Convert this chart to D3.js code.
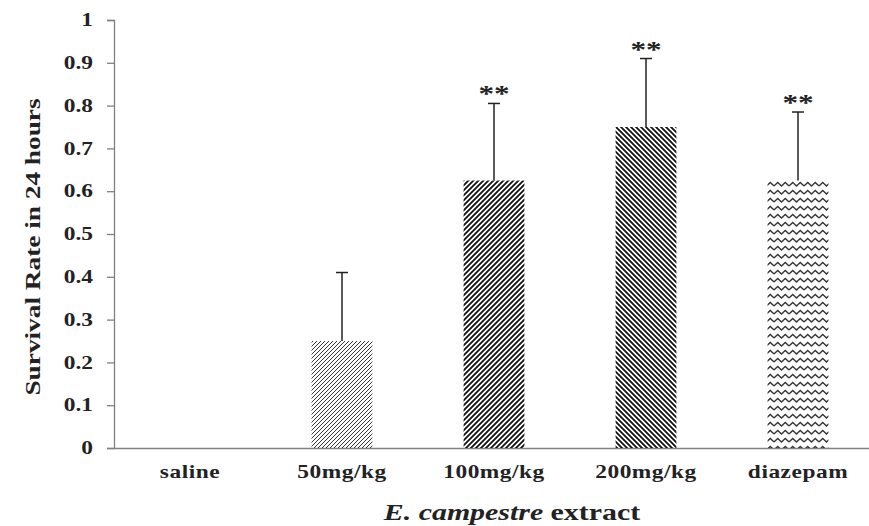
<!DOCTYPE html>
<html>
<head>
<meta charset="utf-8">
<script src="https://cdn.jsdelivr.net/npm/d3@7"></script>
<style>
  body { margin: 0; background: #fff; }
  text { font-family: "Liberation Serif", "DejaVu Serif", serif; fill: #222; }
</style>
</head>
<body>
<svg id="chart" width="869" height="526"></svg>
<script>
// Chart values
var groups = ["saline", "50mg/kg", "100mg/kg", "200mg/kg", "diazepam"];
var survival = [0, 0.25, 0.625, 0.75, 0.625];
var errors = [0, 0.16, 0.18, 0.16, 0.16];
var marks = ["", "", "**", "**", "**"];
var yTicks = [0, 0.1, 0.2, 0.3, 0.4, 0.5, 0.6, 0.7, 0.8, 0.9, 1];
var fills = ["none", "hatchLight", "hatchDark", "hatchBack", "zigzag"];

var svg = d3.select("#chart");
var margin = {top: 20, left: 114, right: -5, bottom: 78};
var width = 869 - margin.left - margin.right;
var height = 526 - margin.top - margin.bottom;

// the source text is wide, so stretch glyphs a little
var stretch = 1.3;

// Fill patterns for the bars
var defs = svg.append("defs");

defs.append("pattern")
    .attr("id", "hatchLight")
    .attr("patternUnits", "userSpaceOnUse")
    .attr("width", 4).attr("height", 4)
    .append("path")
    .attr("d", "M-1,1 l2,-2 M0,4 l4,-4 M3,5 l2,-2")
    .attr("stroke", "#333")
    .attr("stroke-width", 1);

defs.append("pattern")
    .attr("id", "hatchDark")
    .attr("patternUnits", "userSpaceOnUse")
    .attr("width", 5).attr("height", 5)
    .append("path")
    .attr("d", "M-1,1 l2,-2 M0,5 l5,-5 M4,6 l2,-2")
    .attr("stroke", "#111")
    .attr("stroke-width", 1.8);

defs.append("pattern")
    .attr("id", "hatchBack")
    .attr("patternUnits", "userSpaceOnUse")
    .attr("width", 5).attr("height", 5)
    .append("path")
    .attr("d", "M-1,4 l2,2 M0,0 l5,5 M4,-1 l2,2")
    .attr("stroke", "#111")
    .attr("stroke-width", 1.8);

defs.append("pattern")
    .attr("id", "zigzag")
    .attr("patternUnits", "userSpaceOnUse")
    .attr("width", 15).attr("height", 8)
    .append("path")
    .attr("d", "M0,6 L3.75,2.5 L7.5,6 L11.25,2.5 L15,6")
    .attr("fill", "none")
    .attr("stroke", "#333")
    .attr("stroke-width", 1.3);

var g = svg.append("g")
    .attr("transform", `translate(${margin.left}, ${margin.top})`);

// Scales
var x = d3.scaleBand()
    .domain(groups)
    .range([0, width])
    .paddingInner(0.6)
    .paddingOuter(0.3);

var y = d3.scaleLinear()
    .domain([0, 1])
    .range([height, 0]);

// Y axis
var yAxis = g.append("g")
    .call(d3.axisLeft(y)
        .tickValues(yTicks)
        .tickFormat(d3.format("~g"))
        .tickSize(7));

yAxis.select(".domain").attr("stroke", "#808080").attr("stroke-width", 1.3);
yAxis.selectAll(".tick line").attr("stroke", "#808080").attr("stroke-width", 1.3);
yAxis.selectAll(".tick text")
    .attr("x", -21 / stretch)
    .attr("transform", `scale(${stretch},1)`)
    .attr("font-size", 18)
    .attr("font-weight", "bold")
    .attr("fill", "#222")
    .style("font-family", "Liberation Serif, serif");

// X axis
var xAxis = g.append("g")
    .attr("transform", `translate(0, ${height})`)
    .call(d3.axisBottom(x).tickSize(0).tickPadding(17));

xAxis.select(".domain").attr("stroke", "#808080").attr("stroke-width", 1.3);
xAxis.selectAll(".tick text")
    .attr("transform", `scale(${stretch},1)`)
    .attr("font-size", 18)
    .attr("font-weight", "bold")
    .attr("letter-spacing", 0.4)
    .attr("fill", "#222")
    .style("font-family", "Liberation Serif, serif");

// Bars
var data = groups.map(function(d, i) {
    return {group: d, value: survival[i], err: errors[i], mark: marks[i], fill: fills[i]};
});

g.selectAll(".bar")
    .data(data.filter(function(d) { return d.value > 0; }))
    .join("rect")
    .attr("class", "bar")
    .attr("x", function(d) { return x(d.group); })
    .attr("y", function(d) { return y(d.value); })
    .attr("width", x.bandwidth())
    .attr("height", function(d) { return height - y(d.value); })
    .attr("fill", function(d) { return "url(#" + d.fill + ")"; });

// Error bars (upper only)
var withErr = data.filter(function(d) { return d.err > 0; });

g.selectAll(".err")
    .data(withErr)
    .join("line")
    .attr("class", "err")
    .attr("x1", function(d) { return x(d.group) + x.bandwidth() / 2; })
    .attr("x2", function(d) { return x(d.group) + x.bandwidth() / 2; })
    .attr("y1", function(d) { return y(d.value); })
    .attr("y2", function(d) { return y(d.value + d.err); })
    .attr("stroke", "#222")
    .attr("stroke-width", 1.5);

g.selectAll(".cap")
    .data(withErr)
    .join("line")
    .attr("class", "cap")
    .attr("x1", function(d) { return x(d.group) + x.bandwidth() / 2 - 6; })
    .attr("x2", function(d) { return x(d.group) + x.bandwidth() / 2 + 6; })
    .attr("y1", function(d) { return y(d.value + d.err); })
    .attr("y2", function(d) { return y(d.value + d.err); })
    .attr("stroke", "#222")
    .attr("stroke-width", 1.5);

// Significance stars
g.selectAll(".star")
    .data(withErr.filter(function(d) { return d.mark; }))
    .join("text")
    .attr("class", "star")
    .attr("transform", function(d) {
        return `translate(${x(d.group) + x.bandwidth() / 2}, ${y(d.value + d.err) - 2}) scale(${stretch},1)`;
    })
    .attr("text-anchor", "middle")
    .attr("font-size", 24)
    .attr("font-weight", "bold")
    .attr("fill", "#333")
    .text(function(d) { return d.mark; });

// Axis titles
svg.append("text")
    .attr("transform", `translate(40, 247) rotate(-90) scale(${stretch},1)`)
    .attr("text-anchor", "middle")
    .attr("font-size", 21)
    .attr("font-weight", "bold")
    .text("Survival  Rate in 24 hours");

var xt = svg.append("text")
    .attr("transform", `translate(512, 520) scale(${stretch},1)`)
    .attr("text-anchor", "middle")
    .attr("font-size", 23)
    .attr("font-weight", "bold");
xt.append("tspan").attr("font-style", "italic").text("E. campestre");
xt.append("tspan").text(" extract");
</script>
</body>
</html>
